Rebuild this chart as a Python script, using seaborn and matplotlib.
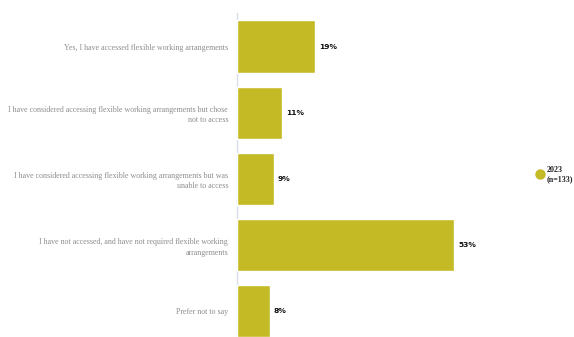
import pandas as pd
import matplotlib.pyplot as plt
import seaborn as sns
from matplotlib.lines import Line2D

categories = [
    "Yes, I have accessed flexible working arrangements",
    "I have considered accessing flexible working arrangements but chose\nnot to access",
    "I have considered accessing flexible working arrangements but was\nunable to access",
    "I have not accessed, and have not required flexible working\narrangements",
    "Prefer not to say",
]
values = [19, 11, 9, 53, 8]
series_name = "2023\n(n=133)"

bar_color = "#C4BA26"
axis_color = "#D9DCEA"

df = pd.DataFrame({"category": categories, "value": values})

sns.set_style("white")
fig = plt.figure(figsize=(5.74, 3.37), dpi=100)
ax = fig.add_axes([0.413, -0.021, 0.499, 0.981])

sns.barplot(data=df, y="category", x="value", orient="h", color=bar_color,
            width=0.79, saturation=1, ax=ax)

ax.set_xlim(0, 70)
ax.set_ylim(4.5, -0.5)
ax.set_xlabel("")
ax.set_ylabel("")
ax.set_xticks([])
for s in ["top", "right", "bottom"]:
    ax.spines[s].set_visible(False)
ax.spines["left"].set_color(axis_color)
ax.spines["left"].set_linewidth(1.0)
ax.spines["left"].set_zorder(0)
ax.tick_params(axis="y", length=0, pad=6.5)
for lbl in ax.get_yticklabels():
    lbl.set_fontfamily("Liberation Serif")
    lbl.set_fontsize(5.7)
    lbl.set_color("#8C8C8C")
    lbl.set_linespacing(1.45)

for i, v in enumerate(values):
    ax.text(v + 1.0, i, f"{v}%", va="center", ha="left", fontsize=5.4,
            fontweight="bold", color="#111111", family="DejaVu Sans")

handle = Line2D([], [], marker="o", linestyle="", markersize=6.5,
                markerfacecolor=bar_color, markeredgecolor=bar_color)
fig.legend([handle], [series_name], loc="center left",
           bbox_to_anchor=(0.933, 0.483), frameon=False, handletextpad=0.2,
           borderaxespad=0.0, borderpad=0.0, handlelength=1.2,
           prop={"family": "Liberation Serif", "size": 5.8, "weight": "bold"})

fig.savefig("out.png", dpi=100)
